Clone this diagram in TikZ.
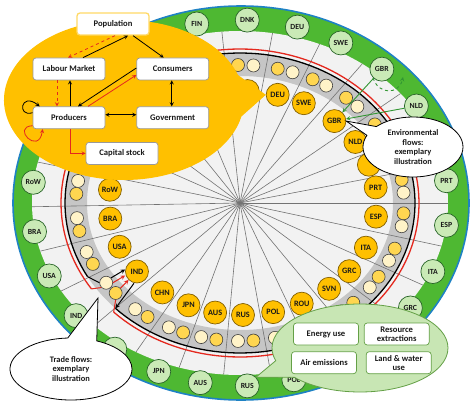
\documentclass[tikz,border=0pt]{standalone}
\usepackage{fontspec}
\setmainfont{Carlito}
\usetikzlibrary{positioning,shapes.callouts}

\definecolor{amber}{RGB}{255,192,0}
\definecolor{amberdark}{RGB}{130,95,0}
\definecolor{ringgreen}{RGB}{78,184,50}
\definecolor{rimblue}{RGB}{30,130,196}
\definecolor{lightgreen}{RGB}{202,234,182}
\definecolor{darkgreen}{RGB}{40,100,40}
\definecolor{paleground}{RGB}{242,242,242}
\definecolor{bandgray}{RGB}{198,198,198}
\definecolor{dotyellow}{RGB}{255,214,80}
\definecolor{dotcream}{RGB}{255,243,200}
\definecolor{flowred}{RGB}{228,40,30}
\definecolor{flowgreen}{RGB}{50,150,50}
\definecolor{envfill}{RGB}{200,230,180}
\definecolor{envedge}{RGB}{100,160,70}
\definecolor{popedge}{RGB}{255,217,102}

% angle / name / outer label / inner label / inner angle
\newcommand{\countrylist}{102/FIN/FIN/{}/102, 88/DNK/DNK/{}/88, 74/DEU/DEU/DEU/75,
  61/SWE/SWE/SWE/63, 47/GBR/GBR/GBR/47, 32/NLD/NLD/NLD/33, 19/XA/{}/{}/20,
  7/PRT/PRT/PRT/8, -7/ESP/ESP/ESP/-7, -22/ITA/ITA/ITA/-23.5, -35/GRC/GRC/GRC/-37.5,
  -49/SVN/{}/SVN/-50, -62/ROU/{}/ROU/-64, -75/POL/POL/POL/-77, -88/RUS/RUS/RUS/-90,
  -101/AUS/AUS/AUS/-102, -113/JPN/JPN/JPN/-114, -127/CHN/{}/CHN/-127,
  -142/IND/IND/IND/-142.3, -156.5/USA/USA/USA/-157, -171/BRA/BRA/BRA/-172,
  173.5/RoW/RoW/RoW/173.2, 159/XB/{}/{}/159, 145/XC/{}/{}/145, 131/XD/{}/{}/131,
  116.5/XE/{}/{}/116.5}

\begin{document}
\begin{tikzpicture}[x=1pt, y=-1pt,
    box/.style={rectangle, rounded corners=3pt, draw=black!40, fill=white, line width=0.7pt,
      minimum width=72pt, minimum height=22pt, inner sep=1pt, align=center, text=black!90,
      font=\bfseries\fontsize{8.6}{8.8}\selectfont},
    popbox/.style={box, draw=popedge, line width=1.3pt},
    envbox/.style={box, draw=envedge, minimum width=65pt},
    outcty/.style={circle, draw=darkgreen, fill=lightgreen, line width=0.7pt, minimum size=24pt,
      inner sep=0pt, text=black!90, font=\bfseries\fontsize{7.8}{7.8}\selectfont},
    incty/.style={circle, draw=amberdark, fill=amber, line width=0.7pt, minimum size=23pt,
      inner sep=0pt, text=black!90, font=\bfseries\fontsize{8.2}{8.2}\selectfont},
    dotyel/.style={circle, draw=black!75, fill=dotyellow, line width=0.6pt, minimum size=13pt, inner sep=0pt},
    dotcrm/.style={dotyel, fill=dotcream},
    spoke/.style={draw=black!55, line width=0.6pt},
    bubble/.style={ellipse callout, draw=black, fill=white, line width=0.8pt, inner sep=0pt,
      align=center, text=black!90, font=\bfseries\fontsize{8.4}{9.8}\selectfont}
  ]
\useasboundingbox (0,0) rectangle (474,412);
\fill[white] (0,0) rectangle (474,412);

\draw[draw=rimblue, line width=1.6pt, fill=ringgreen] (241,203) ellipse[x radius=228pt, y radius=197pt];
\fill[paleground] (240,203) ellipse[x radius=208pt, y radius=172pt];
\fill[bandgray, even odd rule] (240,203) ellipse[x radius=175pt, y radius=150pt]
  (240,203) ellipse[x radius=153pt, y radius=127pt];

\coordinate (hub) at (240,203);
\foreach \s in {95,81,67.5,54,39.5,25.5,13,0,-14.5,-28.5,-42,-55.5,-68.5,-81.5,-94.5,-107,
  -120,-134.5,-149.25,-163.75,-178.75,166.25,152,138,123.75,109.25}
  \draw[spoke] (hub) -- ({240+208*cos(\s)},{203-172*sin(\s)});

\draw[flowred, line width=1.3pt] plot[domain=-134.9:213.9, samples=150] ({240+179*cos(\x)},{203-154*sin(\x)});
\draw[line width=1.3pt] plot[domain=-135.4:209.4, samples=150] ({240+175*cos(\x)},{203-150*sin(\x)});
\coordinate (blackin) at ({240+175*cos(209.4)},{203-150*sin(209.4)});
\coordinate (blackout) at ({240+175*cos(224.6)},{203-150*sin(224.6)});
\coordinate (redin) at ({240+179*cos(213.9)},{203-154*sin(213.9)});
\coordinate (redout) at ({240+179*cos(225.1)},{203-154*sin(225.1)});

\foreach \ang/\nm/\olab/\ilab/\iang in \countrylist {
  \node[dotyel] (y\nm) at ({240+164*cos(\ang+2.7)},{203-138*sin(\ang+2.7)}) {};
  \node[dotcrm] (c\nm) at ({240+164*cos(\ang-2.7)},{203-138*sin(\ang-2.7)}) {};
  \node[incty] (i\nm) at ({243+134*cos(\iang)},{203-112*sin(\iang)}) {\ilab};
  \node[outcty] (o\nm) at ({240+208*cos(\ang)},{203-183*sin(\ang)}) {\olab};
}

\begin{scope}[line width=1pt, -stealth]
\draw[-] (blackin) -- (cIND.west);
\draw[flowred, -] (redin) -- (cIND.south west);
\draw[flowred, -] (redout) -- (yIND.south);
\draw (cIND.north east) -- ([yshift=2pt]iIND.west);
\draw[flowred] (cIND.east) -- ([yshift=-4pt]iIND.west);
\draw[flowred] (yIND.north east) -- (iIND.south west);
\draw ([xshift=-3pt]iIND.south) -- (blackout);
\end{scope}

\coordinate (gbrloop) at (403,77);
\begin{scope}[flowgreen, line width=0.9pt, -stealth]
\draw (oGBR) -- (iGBR);
\draw (oNLD) -- (iGBR);
\draw[dashed] (oGBR.south west) .. controls +(5pt,-17pt) and +(-4pt,-18pt) .. (gbrloop);
\end{scope}

\node[ellipse callout, fill=amber, minimum width=240pt, minimum height=160pt,
  callout absolute pointer={(iDEU.west)}, callout pointer arc=30] (economy) at (124,100) {};
\node[popbox] (population) at (113,24) {Population};
\node[box] (labour) at (69,69) {Labour Market};
\node[box] (consumers) [right=31pt of labour] {Consumers};
\node[box] (producers) [below=26pt of labour] {Producers};
\node[box] (government) [below=26pt of consumers] {Government};
\node[box] (capital) [below=13pt of producers, xshift=53pt] {Capital stock};
\begin{scope}[line width=0.8pt, -stealth]
\draw ([xshift=20pt]population.south) -- ([xshift=-9pt]consumers.north);
\draw ([xshift=14pt]labour.north) -- ([xshift=15pt]population.south);
\draw[flowred, dashed] ([xshift=2pt]population.south) -- ([xshift=-1pt]labour.north);
\draw[flowred, dashed] ([xshift=-12pt]labour.south) -- ([xshift=-12pt]producers.north);
\draw ([xshift=1pt]producers.north) -- ([xshift=1pt]labour.south);
\draw ([yshift=1pt]consumers.west) -- ([xshift=9pt]producers.north);
\draw[flowred] ([xshift=19pt]producers.north) -- ([yshift=-6pt]consumers.west);
\draw[stealth-stealth] ([xshift=-1pt]consumers.south) -- ([xshift=-1pt]government.north);
\draw[stealth-stealth] ([yshift=3pt]producers.east) -- ([yshift=3pt]government.west);
\draw[flowred] ([xshift=1pt]producers.south) |- (capital.west);
\draw ([yshift=5pt]producers.west) .. controls +(-16pt,-5pt) and +(-19pt,15pt) .. ([xshift=7pt]producers.north west);
\draw[flowred] ([yshift=-8pt]producers.west) .. controls +(-22pt,-1pt) and +(-4pt,-27pt) .. ([xshift=10pt]producers.south west);
\end{scope}

\node[bubble, minimum width=100pt, minimum height=60pt, callout absolute pointer={(iGBR.east)},
  callout pointer arc=20] (envflows) at (413,147) {Environmental\\flows:\\exemplary\\illustration};
\coordinate (tradetip) at (98,298);
\node[bubble, minimum width=122pt, minimum height=62pt, callout absolute pointer={(tradetip)},
  callout pointer arc=28] (trade) at (71,369) {Trade flows:\\exemplary\\illustration};

\node[ellipse callout, fill=envfill, draw=envedge, line width=0.8pt, minimum width=176pt,
  minimum height=88pt, callout absolute pointer={(oRUS.north east)}, callout pointer arc=25] (envcat) at (360,348) {};
\node[envbox] (energy) at (326,334) {Energy use};
\node[envbox] (resource) [right=5pt of energy] {Resource\\extractions};
\node[envbox] (air) [below=6pt of energy, xshift=-2pt] {Air emissions};
\node[envbox] (land) [below=6pt of resource, xshift=2pt] {Land \& water\\use};
\end{tikzpicture}
\end{document}
